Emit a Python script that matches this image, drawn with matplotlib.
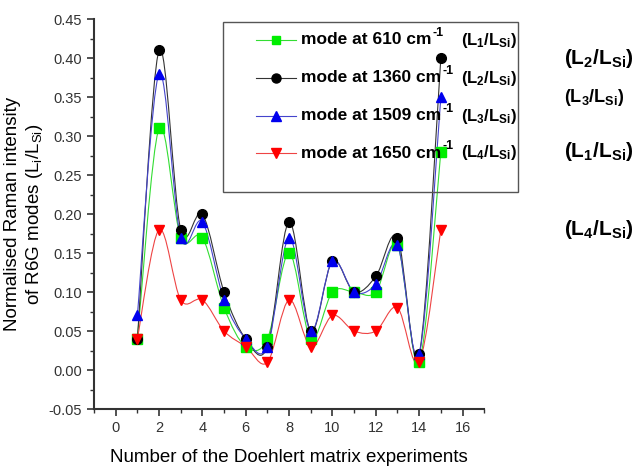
import matplotlib
matplotlib.use("Agg")
import matplotlib.pyplot as plt
import numpy as np
from matplotlib.path import Path
from matplotlib.patches import PathPatch, Rectangle
from matplotlib.lines import Line2D
from matplotlib.ticker import MultipleLocator, FormatStrFormatter

plt.rcParams["font.family"] = ["Liberation Sans", "DejaVu Sans"]
plt.rcParams["mathtext.fontset"] = "custom"
plt.rcParams["mathtext.rm"] = "Liberation Sans"
plt.rcParams["mathtext.it"] = "Liberation Sans:italic"
plt.rcParams["mathtext.bf"] = "Liberation Sans:bold"

experiments = list(range(1, 16))
mode_610 = [0.04, 0.31, 0.17, 0.17, 0.08, 0.03, 0.04, 0.15, 0.04, 0.10, 0.10, 0.10, 0.16, 0.01, 0.28]
mode_1360 = [0.04, 0.41, 0.18, 0.20, 0.10, 0.04, 0.03, 0.19, 0.05, 0.14, 0.10, 0.12, 0.17, 0.02, 0.40]
mode_1509 = [0.07, 0.38, 0.17, 0.19, 0.09, 0.04, 0.03, 0.17, 0.05, 0.14, 0.10, 0.11, 0.16, 0.02, 0.35]
mode_1650 = [0.04, 0.18, 0.09, 0.09, 0.05, 0.03, 0.01, 0.09, 0.03, 0.07, 0.05, 0.05, 0.08, 0.01, 0.18]

series = [
    (mode_610, "#33dd33", "#00ee00", "s", 6.5, "610", r"$\mathbf{(L_1/L_{Si})}$"),
    (mode_1360, "#333333", "black", "o", 7, "1360", r"$\mathbf{(L_2/L_{Si})}$"),
    (mode_1509, "#4444cc", "#0000ee", "^", 7.5, "1509", r"$\mathbf{(L_3/L_{Si})}$"),
    (mode_1650, "#ee4444", "#ff0000", "v", 7.5, "1650", r"$\mathbf{(L_4/L_{Si})}$"),
]


def spline_path(x, y):
    # Catmull-Rom curve as cubic Bezier segments
    p = np.column_stack([x, y]).astype(float)
    ext = np.vstack([p[0], p, p[-1]])
    verts = [p[0]]
    codes = [Path.MOVETO]
    for i in range(len(p) - 1):
        p0, p1, p2, p3 = ext[i], ext[i + 1], ext[i + 2], ext[i + 3]
        verts += [p1 + (p2 - p0) / 6, p2 - (p3 - p1) / 6, p2]
        codes += [Path.CURVE4] * 3
    return Path(verts, codes)


fig = plt.figure(figsize=(6.37, 4.68), dpi=100)
ax = fig.add_axes([0.1476, 0.126, 0.6125, 0.833])

for vals, lc, mc, mk, ms, _, _ in series:
    ax.add_patch(PathPatch(spline_path(experiments, vals), fill=False, ec=lc, lw=0.8))
    ax.plot(experiments, vals, ls="none", marker=mk, ms=ms, color=mc, mec=mc, zorder=3)

ax.set_xlim(-1, 17)
ax.set_ylim(-0.05, 0.45)
ax.xaxis.set_major_locator(MultipleLocator(2))
ax.xaxis.set_minor_locator(MultipleLocator(1))
ax.yaxis.set_major_locator(MultipleLocator(0.05))
ax.yaxis.set_minor_locator(MultipleLocator(0.025))
ax.yaxis.set_major_formatter(FormatStrFormatter("%.2f"))
ax.tick_params(which="major", length=5, width=1.2, labelsize=10.5, colors="#333333")
ax.tick_params(which="minor", length=3, width=1.0, colors="#333333")
for spine in ("top", "right"):
    ax.spines[spine].set_visible(False)
for spine in ("left", "bottom"):
    ax.spines[spine].set_linewidth(1.5)
    ax.spines[spine].set_color("#333333")

ax.set_xlabel("Number of the Doehlert matrix experiments", fontsize=13.5, labelpad=10)
ax.set_ylabel("Normalised Raman intensity\nof R6G modes (L$_\\mathrm{i}$/L$_\\mathrm{Si}$)",
              fontsize=13.5, labelpad=3)

# legend box drawn in figure coordinates
fig.patches.append(Rectangle((223 / 637, 1 - 192 / 468), 295 / 637, 170 / 468,
                             transform=fig.transFigure, fill=False, ec="#555555", lw=1.0))
rows_y = [40, 78, 116, 153]
for (vals, lc, mc, mk, ms, wn, ratio), ry in zip(series, rows_y):
    fy = 1 - ry / 468
    fig.add_artist(Line2D([256 / 637, 296 / 637], [fy, fy], transform=fig.transFigure, color=lc, lw=0.8))
    fig.add_artist(Line2D([276 / 637], [fy], transform=fig.transFigure, marker=mk, ms=ms - 0.5,
                          color=mc, ls="none"))
    t = fig.text(301 / 637, fy, f"mode at {wn} cm", fontsize=12.5, fontweight="bold", va="center")
    ax.annotate("-1", xy=(1, 0.95), xycoords=t, xytext=(1, 0), textcoords="offset points",
                fontsize=9, fontweight="bold", ha="left", va="center", annotation_clip=False)
    fig.text(461 / 637, fy, ratio, fontsize=12, va="center")

# ratio labels next to experiment 15
right_labels = [(mode_1360[-1], r"$\mathbf{(L_2/L_{Si})}$", 15),
                (mode_1509[-1], r"$\mathbf{(L_3/L_{Si})}$", 13),
                (mode_610[-1], r"$\mathbf{(L_1/L_{Si})}$", 15),
                (mode_1650[-1], r"$\mathbf{(L_4/L_{Si})}$", 15)]
for yv, txt, fs in right_labels:
    ax.text(20.7, yv, txt, fontsize=fs, va="center", ha="left", clip_on=False)

fig.savefig("out.png", dpi=100)
